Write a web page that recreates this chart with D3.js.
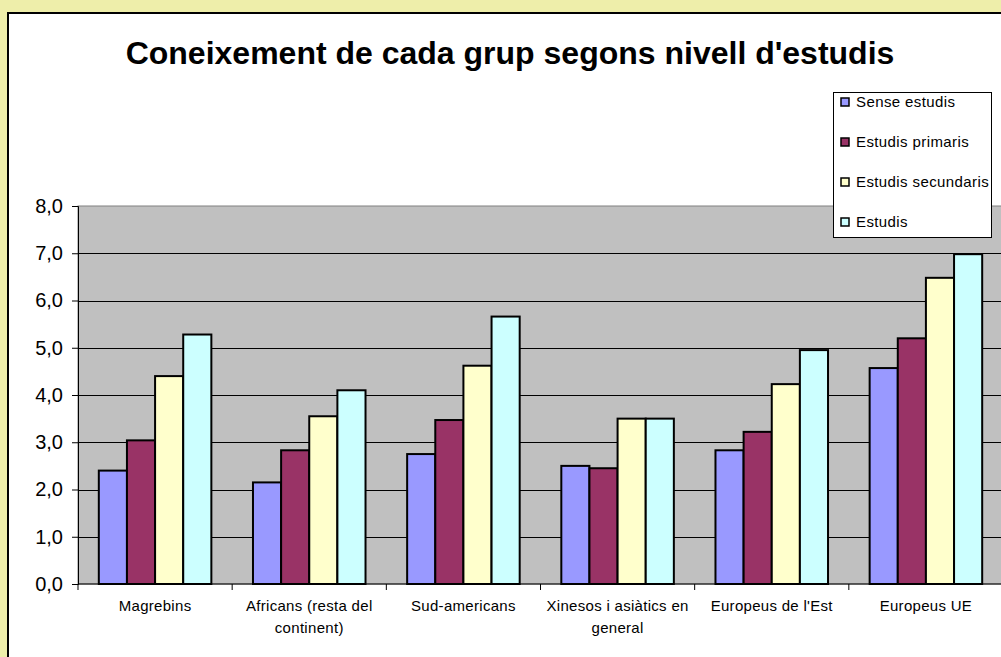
<!doctype html>
<html lang="ca">
  <head>
    <meta charset="utf-8">
    <title>Coneixement de cada grup segons nivell d'estudis</title>
    <style>
      html, body{
        margin: 0;
        padding: 0;
        background: #eeeeaa;
      }
      #chart{
        display: block;
        font-family: "Liberation Sans", Arial, sans-serif;
      }
    </style>
  </head>
  <body>
    <svg id="chart" width="1001" height="657"></svg>
    <script src="https://d3js.org/d3.v7.min.js"></script>
    <script>

      //chart data
      var title = "Coneixement de cada grup segons nivell d'estudis";
      var categories = ["Magrebins", "Africans (resta del continent)", "Sud-americans", "Xinesos i asiàtics en general", "Europeus de l'Est", "Europeus UE"];
      var seriesNames = ["Sense estudis", "Estudis primaris", "Estudis secundaris", "Estudis"];
      var senseEstudis = [2.4, 2.15, 2.75, 2.5, 2.83, 4.57];
      var estudisPrimaris = [3.04, 2.83, 3.47, 2.45, 3.22, 5.2];
      var estudisSecundaris = [4.4, 3.55, 4.62, 3.5, 4.23, 6.48];
      var estudis = [5.28, 4.1, 5.66, 3.5, 4.95, 6.98];
      var seriesColors = ["#9999ff", "#993366", "#ffffcc", "#ccffff"];
      var yTicks = [0, 1, 2, 3, 4, 5, 6, 7, 8];

      var seriesValues = [senseEstudis, estudisPrimaris, estudisSecundaris, estudis];

      var svg = d3.select("#chart");

      //white chart area with black border (runs off the right/bottom edge)
      svg.append("rect")
        .attr("x", 8)
        .attr("y", 13)
        .attr("width", 1010)
        .attr("height", 660)
        .style("fill", "#fff")
        .style("stroke", "#000")
        .style("stroke-width", 2);

      //title
      svg.append("text")
        .attr("x", 510)
        .attr("y", 64)
        .attr("text-anchor", "middle")
        .style("font-size", "32px")
        .style("font-weight", "bold")
        .text(title);

      //scales
      var x0 = d3.scaleBand()
        .domain(categories)
        .range([78, 1003])
        .paddingInner(0.27)
        .paddingOuter(0.135);

      var x1 = d3.scaleBand()
        .domain(seriesNames)
        .range([0, x0.bandwidth()]);

      var y = d3.scaleLinear()
        .domain([0, 8])
        .range([584, 206]);

      //plot area
      svg.append("rect")
        .attr("x", 78)
        .attr("y", y(8))
        .attr("width", 1003 - 78)
        .attr("height", y(0) - y(8))
        .style("fill", "#c0c0c0")
        .style("stroke", "#808080")
        .style("stroke-width", 1);

      //gridlines
      svg.append("g")
        .selectAll("line")
        .data(yTicks.filter(function(d){ return d > 0 && d < 8; }))
        .enter()
        .append("line")
        .attr("x1", 78)
        .attr("x2", 1003)
        .attr("y1", function(d){ return Math.round(y(d)) + 0.5; })
        .attr("y2", function(d){ return Math.round(y(d)) + 0.5; })
        .style("stroke", "#000")
        .style("stroke-width", 1);

      //bars
      var groups = svg.append("g")
        .selectAll("g")
        .data(categories)
        .enter()
        .append("g")
        .attr("transform", function(d){ return "translate(" + x0(d) + ",0)"; });

      groups.selectAll("rect")
        .data(function(d, i){
          return seriesNames.map(function(s, j){ return {series: s, value: seriesValues[j][i], color: seriesColors[j]}; });
        })
        .enter()
        .append("rect")
        .attr("x", function(d){ return x1(d.series); })
        .attr("y", function(d){ return y(d.value); })
        .attr("width", x1.bandwidth())
        .attr("height", function(d){ return y(0) - y(d.value); })
        .style("fill", function(d){ return d.color; })
        .style("stroke", "#000")
        .style("stroke-width", 2);

      //y axis
      var yAxis = svg.append("g")
        .attr("transform", "translate(78,0)")
        .call(d3.axisLeft(y)
          .tickValues(yTicks)
          .tickSize(6)
          .tickPadding(9)
          .tickFormat(function(d){ return d.toFixed(1).replace(".", ","); }));

      yAxis.selectAll("text")
        .style("font-size", "20px")
        .style("font-family", "Liberation Sans, Arial, sans-serif")
        .style("fill", "#000");
      yAxis.selectAll("line, path").style("stroke", "#000");

      //x axis
      var xAxis = svg.append("g")
        .attr("transform", "translate(0," + y(0) + ")");

      xAxis.append("line")
        .attr("x1", 78)
        .attr("x2", 1003)
        .style("stroke", "#000");

      xAxis.selectAll("line.tick")
        .data(d3.range(categories.length + 1))
        .enter()
        .append("line")
        .attr("class", "tick")
        .attr("x1", function(i){ return 78 + i * x0.step(); })
        .attr("x2", function(i){ return 78 + i * x0.step(); })
        .attr("y1", 0)
        .attr("y2", 6)
        .style("stroke", "#000");

      var catLabels = xAxis.selectAll("text")
        .data(categories)
        .enter()
        .append("text")
        .attr("x", function(d){ return x0(d) + x0.bandwidth() / 2; })
        .attr("y", 27)
        .attr("text-anchor", "middle")
        .style("font-size", "15px")
        .style("letter-spacing", "0.3px")
        .text(function(d){ return d; });

      //wrap long category labels onto two lines
      catLabels.each(function(d){
        var text = d3.select(this);
        var words = d.split(" ");
        var cx = text.attr("x");
        text.text(null);
        var line = [];
        var tspan = text.append("tspan").attr("x", cx).attr("dy", 0);
        words.forEach(function(w){
          line.push(w);
          tspan.text(line.join(" "));
          if(tspan.node().getComputedTextLength() > 150 && line.length > 1){
            line.pop();
            tspan.text(line.join(" "));
            line = [w];
            tspan = text.append("tspan").attr("x", cx).attr("dy", 22).text(w);
          }
        });
      });

      //legend
      var legend = svg.append("g")
        .attr("transform", "translate(833,92)");

      legend.append("rect")
        .attr("x", 0.5)
        .attr("y", 0.5)
        .attr("width", 158)
        .attr("height", 145)
        .style("fill", "#fff")
        .style("stroke", "#000");

      var legendItems = legend.selectAll("g")
        .data(seriesNames)
        .enter()
        .append("g")
        .attr("transform", function(d, i){ return "translate(0," + (10 + i * 40) + ")"; });

      legendItems.append("rect")
        .attr("x", 8)
        .attr("y", -4)
        .attr("width", 8)
        .attr("height", 8)
        .style("fill", function(d, i){ return seriesColors[i]; })
        .style("stroke", "#000")
        .style("stroke-width", 1.5);

      legendItems.append("text")
        .attr("x", 23)
        .attr("y", 0)
        .attr("dy", "0.35em")
        .style("font-size", "15px")
        .style("letter-spacing", "0.4px")
        .text(function(d){ return d; });

    </script>
  </body>
</html>
